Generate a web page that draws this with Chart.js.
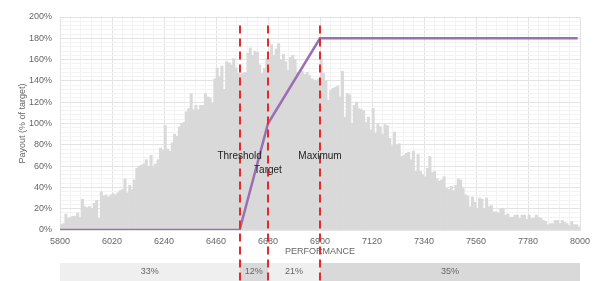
<!DOCTYPE html>
<html>
<head>
<meta charset="utf-8">
<title>Payout curve</title>
<script src="https://cdn.jsdelivr.net/npm/chart.js"></script>
<style>
  html, body { margin: 0; padding: 0; background: #fff; }
  #wrap { width: 598px; height: 281px; position: relative; }
</style>
</head>
<body>
<div id="wrap"><canvas id="payout-chart"></canvas></div>
<script>
// histogram of performance outcomes, bins of 10 starting at 5800
var histStart = 5800;
var binWidth = 10;
var histHeights = [
  5, 6, 15, 11, 12, 13, 13, 16, 12, 29,
  22, 21, 22, 20, 25, 28, 11, 36, 32, 33,
  31, 33, 34, 33, 35, 37, 38, 48, 35, 42,
  38, 47, 58, 60, 61, 62, 66, 60, 70, 60,
  62, 66, 77, 75, 98, 76, 74, 82, 90, 88,
  97, 100, 101, 111, 114, 128, 113, 117, 113, 117,
  117, 128, 125, 124, 119, 142, 152, 144, 154, 132,
  158, 157, 155, 161, 152, 147, 146, 147, 148, 166,
  171, 164, 168, 167, 155, 147, 152, 161, 160, 174,
  164, 170, 175, 160, 165, 158, 150, 162, 164, 160,
  148, 147, 149, 146, 148, 145, 142, 141, 140, 142,
  160, 147, 140, 122, 131, 133, 134, 135, 125, 149,
  106, 128, 127, 100, 117, 120, 114, 113, 112, 101,
  106, 94, 114, 91, 100, 97, 90, 99, 98, 86,
  79, 92, 80, 81, 69, 70, 72, 73, 66, 74,
  55, 71, 55, 52, 50, 58, 69, 54, 55, 48,
  46, 47, 50, 39, 38, 41, 37, 42, 48, 47,
  39, 33, 32, 22, 31, 26, 20, 30, 29, 20,
  30, 22, 23, 17, 17, 16, 20, 20, 14, 15,
  12, 12, 14, 14, 11, 14, 14, 10, 14, 11,
  11, 14, 12, 11, 9, 8, 5, 6, 6, 9,
  9, 6, 9, 7, 6, 4, 8, 5, 5, 3
];

// payout curve
var payoutPerf = [5800, 6560, 6680, 6900, 7990];
var payoutPct = [0, 0, 100, 180, 180];

// threshold / target / maximum
var markerNames = ['Threshold', 'Target', 'Maximum'];
var markerPerf = [6560, 6680, 6900];

// share of outcomes in each zone
var zoneEdges = [5800, 6560, 6680, 6900, 8000];
var zoneLabels = ['33%', '12%', '21%', '35%'];

var xMin = 5800, xMax = 8000, xMajor = 220, xMinor = 44;
var yMin = 0, yMax = 200, yMajor = 20, yMinor = 4;

var histPoints = histHeights.map(function (h, i) {
  return { x: histStart + binWidth * i + binWidth / 2, y: h };
});
var payoutPoints = payoutPerf.map(function (p, i) {
  return { x: p, y: payoutPct[i] };
});

// zone strip, dashed markers and their names
var overlayPlugin = {
  id: 'overlay',
  afterDraw: function (chart) {
    var ctx = chart.ctx;
    var x = chart.scales.x;
    var y = chart.scales.y;
    var h = chart.height;

    ctx.save();
    // zone strip under the axis
    for (var i = 0; i < zoneLabels.length; i++) {
      var x0 = x.getPixelForValue(zoneEdges[i]);
      var x1 = x.getPixelForValue(zoneEdges[i + 1]);
      ctx.fillStyle = (i % 2 === 0) ? '#efefef' : '#d9d9d9';
      ctx.fillRect(x0, h - 18, x1 - x0, 18);
      ctx.fillStyle = '#666';
      ctx.font = '9px "Liberation Sans", Arial, sans-serif';
      ctx.textAlign = 'center';
      ctx.textBaseline = 'middle';
      ctx.fillText(zoneLabels[i], (x0 + x1) / 2, h - 9);
    }

    // red dashed markers
    ctx.strokeStyle = '#e8282b';
    ctx.lineWidth = 2;
    ctx.setLineDash([8, 5]);
    var top = y.getPixelForValue(192);
    markerPerf.forEach(function (p) {
      var px = Math.round(x.getPixelForValue(p));
      ctx.beginPath();
      ctx.moveTo(px, top);
      ctx.lineTo(px, h);
      ctx.stroke();
    });
    ctx.setLineDash([]);

    // marker names
    ctx.fillStyle = '#222';
    ctx.font = '10px "Liberation Sans", Arial, sans-serif';
    ctx.textAlign = 'center';
    ctx.textBaseline = 'middle';
    var namePct = [69, 56, 69];
    markerNames.forEach(function (n, i) {
      ctx.fillText(n, x.getPixelForValue(markerPerf[i]), y.getPixelForValue(namePct[i]));
    });
    ctx.restore();
  }
};

var ctx = document.getElementById('payout-chart');
var chart = new Chart(ctx, {
  type: 'bar',
  data: {
    datasets: [{
      type: 'line',
      label: 'Payout',
      data: payoutPoints,
      borderColor: '#9b6fb1',
      borderWidth: 2.5,
      pointRadius: 0,
      tension: 0,
      fill: false,
      order: 0
    }, {
      type: 'bar',
      label: 'Outcomes',
      data: histPoints,
      backgroundColor: '#d9d9d9',
      borderWidth: 0,
      barPercentage: 1,
      categoryPercentage: 1,
      order: 1
    }]
  },
  options: {
    responsive: true,
    maintainAspectRatio: false,
    animation: false,
    layout: { padding: { left: 10, right: 18, top: 17, bottom: 20 } },
    plugins: {
      legend: { display: false },
      tooltip: { enabled: false }
    },
    scales: {
      x: {
        type: 'linear',
        min: xMin,
        max: xMax,
        offset: false,
        grid: {
          offset: false,
          drawTicks: false,
          color: function (c) {
            return c.tick && Math.round(c.tick.value - xMin) % xMajor === 0 ? '#e3e3e3' : '#f3f3f3';
          }
        },
        border: { color: '#e3e3e3' },
        ticks: {
          stepSize: xMinor,
          autoSkip: false,
          maxRotation: 0,
          padding: 6,
          color: '#666',
          font: { family: '"Liberation Sans", Arial, sans-serif', size: 9 },
          callback: function (v) {
            return Math.round(v - xMin) % xMajor === 0 ? Math.round(v) : '';
          }
        },
        title: {
          display: true,
          text: 'PERFORMANCE',
          color: '#666',
          padding: { top: 0, bottom: 4 },
          font: { family: '"Liberation Sans", Arial, sans-serif', size: 9 }
        },
        afterFit: function (scale) { scale.height = 31; }
      },
      y: {
        min: yMin,
        max: yMax,
        grid: {
          drawTicks: false,
          color: function (c) {
            return c.tick && Math.round(c.tick.value) % yMajor === 0 ? '#e3e3e3' : '#f3f3f3';
          }
        },
        border: { color: '#e3e3e3' },
        ticks: {
          stepSize: yMinor,
          autoSkip: false,
          padding: 8,
          color: '#666',
          font: { family: '"Liberation Sans", Arial, sans-serif', size: 9 },
          callback: function (v) {
            return Math.round(v) % yMajor === 0 ? Math.round(v) + '%' : '';
          }
        },
        title: {
          display: true,
          text: 'Payout (% of target)',
          color: '#666',
          padding: { top: 7, bottom: 4 },
          font: { family: '"Liberation Sans", Arial, sans-serif', size: 9 }
        },
        afterFit: function (scale) { scale.width = 50; }
      }
    }
  },
  plugins: [overlayPlugin]
});
</script>
</body>
</html>
